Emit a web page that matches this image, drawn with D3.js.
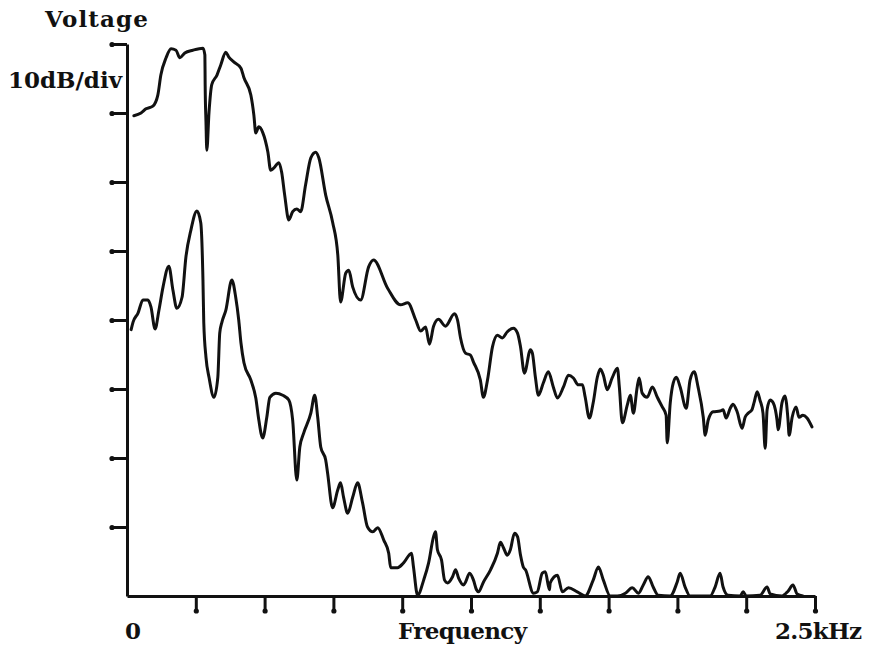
<!DOCTYPE html>
<html>
<head>
<meta charset="utf-8">
<script src="https://cdn.jsdelivr.net/npm/d3@7"></script>
<style>
  html, body { margin: 0; padding: 0; background: #fff; }
  svg { display: block; }
  .lbl { font-family: "DejaVu Serif", "Liberation Serif", serif; font-weight: bold; font-size: 23px; fill: #111; }
</style>
</head>
<body>
<svg id="chart" width="872" height="648"></svg>
<script>
// Frequency in Hz, level in dB (0 = bottom of screen, 80 = top, 10 dB/div)
const upperFreq = [25,51,69,94,112,123,142,160,178,192,210,239,276,283,284,287,290,298,308,327,341,359,370,388,414,425,450,461,468,479,493,512,522,533,552,562,573,588,602,617,631,649,668,686,697,722,747,766,776,795,806,820,849,878,896,947,994,1020,1049,1067,1085,1099,1114,1132,1157,1190,1201,1212,1230,1248,1259,1284,1295,1310,1328,1346,1364,1382,1404,1419,1430,1444,1466,1473,1484,1495,1513,1531,1549,1564,1586,1604,1622,1640,1655,1665,1680,1694,1709,1720,1731,1745,1763,1782,1789,1800,1818,1829,1840,1854,1861,1872,1890,1909,1927,1945,1959,1963,1974,1985,1996,2010,2032,2046,2061,2075,2094,2101,2112,2130,2155,2166,2177,2192,2202,2217,2235,2246,2257,2271,2279,2290,2300,2311,2319,2326,2337,2348,2362,2366,2380,2391,2402,2406,2417,2431,2442,2456,2471,2489];
const upperLevel = [69.6,70.0,70.6,71.0,72.6,75.5,78.0,79.3,79.1,78.0,78.7,79.1,79.4,78.4,74.1,68.7,64.6,70.1,74.1,75.5,77.0,78.8,78.1,77.4,76.5,75.1,72.6,69.7,67.1,68.0,67.2,64.3,61.7,62.0,62.8,61.4,58.1,54.5,55.7,56.1,55.7,59.6,63.5,64.3,63.5,58.1,54.2,49.4,42.6,46.8,47.2,44.8,42.9,47.7,48.7,44.6,42.2,42.5,40.0,38.4,39.0,36.5,39.1,40.1,39.1,40.9,40.0,37.4,35.2,34.9,33.9,31.3,28.8,31.3,36.1,37.8,37.4,38.3,38.8,38.1,36.1,32.3,35.7,35.2,31.7,29.1,30.9,32.5,30.3,28.7,30.3,32.0,31.6,30.6,30.6,28.8,25.8,28.0,31.7,32.9,32.0,29.9,31.6,33.0,30.3,25.1,27.7,29.1,26.5,30.3,31.6,29.4,28.8,30.3,28.8,27.4,26.2,22.2,28.0,30.9,31.7,30.3,27.2,31.3,32.5,30.3,25.9,23.3,25.5,26.7,26.8,27.0,25.8,27.2,27.8,26.7,24.3,25.9,26.5,27.0,28.1,29.6,28.4,26.5,21.4,27.0,28.4,28.0,25.5,24.1,28.0,29.0,25.5,23.3,25.9,27.4,25.9,26.2,25.8,24.5];

const lowerFreq = [15,22,40,58,76,87,102,116,131,152,167,181,200,214,232,254,268,276,279,287,298,316,330,337,345,359,381,395,406,414,425,450,468,479,493,508,519,541,566,588,602,617,628,642,668,682,693,704,722,729,747,766,776,787,802,820,838,856,874,893,911,933,951,958,983,1005,1034,1041,1056,1078,1096,1114,1121,1128,1143,1154,1165,1183,1194,1205,1223,1230,1245,1259,1270,1277,1295,1321,1346,1357,1368,1382,1393,1408,1419,1430,1440,1448,1477,1491,1509,1520,1535,1538,1564,1582,1604,1636,1665,1694,1713,1731,1756,1782,1811,1836,1858,1876,1894,1912,1930,1974,1999,2010,2028,2046,2119,2137,2155,2166,2184,2228,2239,2250,2300,2326,2337,2380,2402,2420,2435,2456];
const lowerLevel = [38.6,39.7,41.0,42.9,42.9,41.9,38.7,41.4,44.8,47.8,44.3,41.7,43.3,49.1,53.0,55.8,54.1,45.8,39.6,34.6,31.7,28.8,31.7,38.1,39.7,41.4,45.8,43.3,40.0,36.7,33.8,31.3,28.7,25.5,22.9,25.9,28.8,29.4,29.1,28.4,25.5,16.8,21.6,23.6,26.5,29.1,25.9,21.6,19.7,17.8,12.8,15.4,16.4,14.3,12.0,14.3,16.4,13.5,10.0,9.3,9.9,8.1,6.2,4.1,4.1,4.8,6.2,4.2,0.1,2.3,4.8,8.6,9.3,6.7,5.2,2.3,1.9,2.8,3.8,2.6,1.6,2.0,3.3,2.3,0.9,0.6,2.0,3.8,6.2,7.8,7.0,5.9,6.7,9.1,8.6,5.9,4.2,3.8,0.4,0.6,3.3,3.5,0.9,1.9,3.0,0.6,1.2,0.6,0.0,2.3,4.2,2.3,0.0,0.0,0.4,1.2,0.4,1.6,2.8,1.3,0.1,0.0,2.0,3.3,1.3,0.0,0.0,1.3,3.3,1.3,0.1,0.0,0.6,0.0,0.1,1.3,0.3,0.0,0.7,1.6,0.3,0.0];

const xTickValues = [250,500,750,1000,1250,1500,1750,2000,2250,2500];
const yTickValues = [10,20,30,40,50,60,70,80];
const yLabelTop = "Voltage";
const yLabelUnit = "10dB/div";
const xLabelStart = "0";
const xLabelMid = "Frequency";
const xLabelEnd = "2.5kHz";

const svg = d3.select("#chart");
const x = d3.scaleLinear().domain([0, 2500]).range([127, 815]);
const y = d3.scaleLinear().domain([0, 80]).range([596, 44]);

const upper = upperFreq.map((f, i) => [f, upperLevel[i]]);
const lower = lowerFreq.map((f, i) => [f, lowerLevel[i]]);

// axes
const yAxis = d3.axisLeft(y).tickValues(yTickValues).tickSize(15).tickSizeOuter(0).tickFormat("");
const xAxis = d3.axisBottom(x).tickValues(xTickValues).tickSize(15).tickSizeOuter(0).tickFormat("");

const gy = svg.append("g").attr("transform", `translate(${x(0)},0)`).call(yAxis);
const gx = svg.append("g").attr("transform", `translate(0,${y(0)})`).call(xAxis);
[gy, gx].forEach(g => {
  g.select(".domain").attr("stroke", "#111").attr("stroke-width", 3);
  g.selectAll(".tick line").attr("stroke", "#111").attr("stroke-width", 3);
});
// blobs at tick ends
gy.selectAll(".tick").append("circle").attr("cx", -15).attr("cy", 0).attr("r", 2.6).attr("fill", "#111");
gx.selectAll(".tick").append("circle").attr("cx", 0).attr("cy", 15).attr("r", 2.6).attr("fill", "#111");

// curves
const line = d3.line().x(d => x(d[0])).y(d => y(d[1])).curve(d3.curveMonotoneX);
[upper, lower].forEach(data => {
  svg.append("path").datum(data)
    .attr("d", line)
    .attr("fill", "none")
    .attr("stroke", "#111")
    .attr("stroke-width", 3)
    .attr("stroke-linejoin", "round")
    .attr("stroke-linecap", "round");
});

// labels (widths matched to the reference with spacing adjustment)
function label(txt, x0, y0, len) {
  const t = svg.append("text").attr("class", "lbl").attr("x", x0).attr("y", y0).text(txt);
  if (len) t.attr("textLength", len).attr("lengthAdjust", "spacing");
  return t;
}
label(yLabelTop, 45, 27, 103);
label(yLabelUnit, 8, 88, 114);
label(xLabelStart, 125, 639);
label(xLabelMid, 398, 639, 129);
label(xLabelEnd, 775, 639, 87);
</script>
</body>
</html>
